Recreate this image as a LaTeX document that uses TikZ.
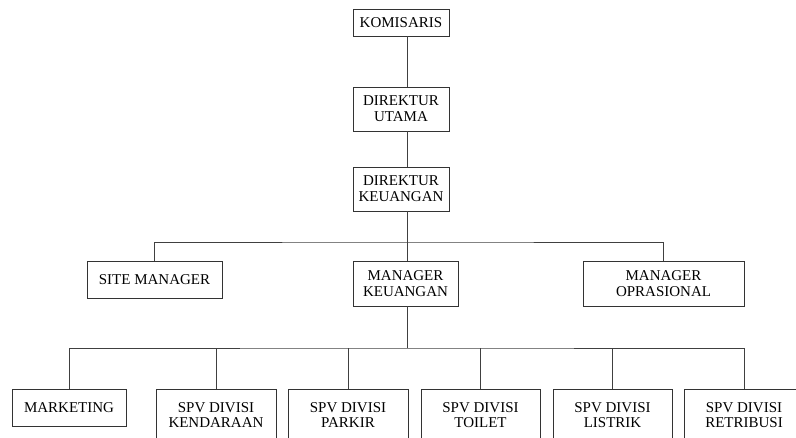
\documentclass[tikz,border=0pt]{standalone}
\usepackage{fontspec}
\setmainfont{Liberation Serif}
\usepackage{tikz}

\begin{document}
\begin{tikzpicture}[x=1pt, y=-1pt,
    jabatan/.style={draw=black!80, line width=0.8pt, align=center, inner sep=0pt,
        font=\fontsize{15}{15.7}\selectfont, text=black},
    garis/.style={draw=black!75, line width=0.8pt}]
    % Frame of the page
    \useasboundingbox (0,0) rectangle (796,437);
    \clip (0,0) rectangle (796,437);

    % Top of the chart
    \node[jabatan, minimum width=96, minimum height=27] (kom) at (401,22.5) {KOMISARIS};
    \node[jabatan, minimum width=96, minimum height=44] (dirut) at (401,109) {DIREKTUR\\UTAMA};
    \node[jabatan, minimum width=96, minimum height=44] (dirkeu) at (401,189) {DIREKTUR\\KEUANGAN};

    % Managers
    \node[jabatan, minimum width=135, minimum height=37] (site) at (154.5,279.5) {SITE MANAGER};
    \node[jabatan, minimum width=105, minimum height=45] (mankeu) at (405.5,283.5) {MANAGER\\KEUANGAN};
    \node[jabatan, minimum width=161, minimum height=45] (manop) at (663.5,283.5) {MANAGER\\OPRASIONAL};

    % Supervisors (cut off at the bottom edge)
    \node[jabatan, minimum width=114, minimum height=37] (mark) at (69,407.5) {MARKETING};
    \node[jabatan, minimum width=120, minimum height=52] (kend) at (216,415) {SPV DIVISI\\KENDARAAN};
    \node[jabatan, minimum width=120, minimum height=52] (park) at (348,415) {SPV DIVISI\\PARKIR};
    \node[jabatan, minimum width=119, minimum height=52] (toil) at (480.5,415) {SPV DIVISI\\TOILET};
    \node[jabatan, minimum width=119, minimum height=52] (list) at (612.5,415) {SPV DIVISI\\LISTRIK};
    \node[jabatan, minimum width=120, minimum height=52] (retri) at (744,415) {SPV DIVISI\\RETRIBUSI};

    % Spine and branch lines
    \coordinate (spine) at (407,0);
    \coordinate (bus1) at (407,242);
    \coordinate (bus2) at (407,348);

    \draw[garis] (kom.south -| spine) -- (dirut.north -| spine);
    \draw[garis] (dirut.south -| spine) -- (dirkeu.north -| spine);
    \draw[garis] (dirkeu.south -| spine) -- (bus1);
    \draw[garis] (site.north) |- (bus1) -| (manop.north);
    \draw[garis] (bus1) -- (mankeu.north -| spine);

    \draw[garis] (mankeu.south -| spine) -- (bus2);
    \draw[garis] (mark.north) |- (bus2) -| (retri.north);
    \foreach \n in {kend, park, toil, list}
        \draw[garis] (\n.north) -- (\n.north |- bus2);
\end{tikzpicture}
\end{document}
